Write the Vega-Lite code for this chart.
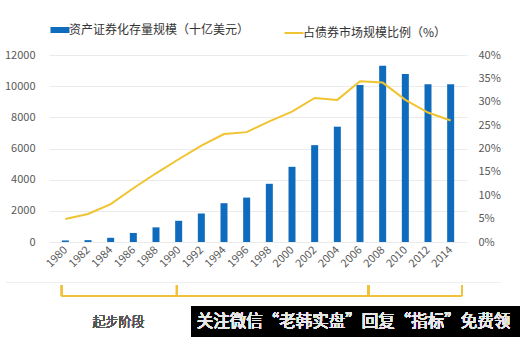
{
  "$schema": "https://vega.github.io/schema/vega-lite/v6.json",
  "autosize": "none",
  "width": 418,
  "height": 187,
  "padding": {"left": 49, "top": 55, "right": 53, "bottom": 95},
  "background": "#ffffff",
  "config": {
    "font": "Noto Sans CJK SC",
    "view": {"stroke": null},
    "axis": {"labelColor": "#595959", "labelFontSize": 11, "domain": false, "ticks": false, "title": null, "labelOverlap": false, "labelFlush": false}
  },
  "data": {
    "values": [
      {"year": 1980, "size": 100, "share": 4.9},
      {"year": 1982, "size": 120, "share": 6.0},
      {"year": 1984, "size": 270, "share": 8.1},
      {"year": 1986, "size": 580, "share": 11.5},
      {"year": 1988, "size": 940, "share": 14.7},
      {"year": 1990, "size": 1360, "share": 17.7},
      {"year": 1992, "size": 1830, "share": 20.6},
      {"year": 1994, "size": 2490, "share": 23.1},
      {"year": 1996, "size": 2850, "share": 23.5},
      {"year": 1998, "size": 3735, "share": 25.8},
      {"year": 2000, "size": 4825, "share": 27.9},
      {"year": 2002, "size": 6215, "share": 30.8},
      {"year": 2004, "size": 7400, "share": 30.4},
      {"year": 2006, "size": 10080, "share": 34.4},
      {"year": 2008, "size": 11310, "share": 34.1},
      {"year": 2010, "size": 10780, "share": 30.4},
      {"year": 2012, "size": 10120, "share": 27.7},
      {"year": 2014, "size": 10120, "share": 26.0}
    ]
  },
  "layer": [
    {
      "layer": [
        {
          "mark": {"type": "bar", "width": 7},
          "encoding": {
            "x": {
              "field": "year", "type": "quantitative",
              "scale": {"domain": [1979, 2015], "nice": false, "zero": false},
              "axis": {
                "values": [1980, 1982, 1984, 1986, 1988, 1990, 1992, 1994, 1996, 1998, 2000, 2002, 2004, 2006, 2008, 2010, 2012, 2014],
                "tickCount": 40,
                "format": "d", "labelAngle": -45, "labelAlign": "right", "labelBaseline": "middle", "grid": false, "labelPadding": 6, "labelFlush": false, "labelOverlap": false
              }
            },
            "y": {
              "field": "size", "type": "quantitative",
              "scale": {"domain": [0, 12000], "nice": false, "zero": false},
              "axis": {"values": [0, 2000, 4000, 6000, 8000, 10000, 12000], "tickCount": 20, "format": "d", "grid": true, "gridColor": "#ebebeb", "labelPadding": 14, "labelOverlap": false, "title": null}
            },
            "color": {
              "datum": "资产证券化存量规模（十亿美元）", "type": "nominal",
              "scale": {"domain": ["资产证券化存量规模（十亿美元）", "占债券市场规模比例（%）"], "range": ["#0f6cbd", "#f0c330"]},
              "legend": {
                "title": null, "orient": "none", "legendX": 5, "legendY": -31, "direction": "horizontal",
                "padding": 0, "columnPadding": 30, "labelFontSize": 12, "labelColor": "#333333", "labelLimit": 400,
                "symbolType": "stroke", "symbolSize": 361, "labelOffset": 3,
                "encode": {
                  "symbols": {
                    "update": {
                      "stroke": {"scale": "color", "field": "value"},
                      "strokeWidth": {"signal": "datum.value === '资产证券化存量规模（十亿美元）' ? 6 : 2"},
                      "fill": {"value": "transparent"}
                    }
                  }
                }
              }
            }
          }
        },
        {
          "mark": {"type": "rule", "color": "#eeeeee", "strokeWidth": 1},
          "encoding": {"x": {"datum": 1974.8}, "x2": {"datum": 2018.4}, "y": {"datum": -2600}}
        },
        {
          "mark": {"type": "rule", "color": "#eec23a", "strokeWidth": 2},
          "encoding": {"x": {"datum": 1979.7}, "x2": {"datum": 2015.0}, "y": {"datum": -3465}}
        },
        {
          "mark": {"type": "rule", "color": "#eec23a", "strokeWidth": 2},
          "encoding": {"x": {"datum": 1979.7}, "y": {"datum": -2760}, "y2": {"datum": -3465}}
        },
        {
          "mark": {"type": "rule", "color": "#eec23a", "strokeWidth": 2},
          "encoding": {"x": {"datum": 1989.85}, "y": {"datum": -2760}, "y2": {"datum": -3465}}
        },
        {
          "mark": {"type": "rule", "color": "#eec23a", "strokeWidth": 2},
          "encoding": {"x": {"datum": 2006.73}, "y": {"datum": -2760}, "y2": {"datum": -3465}}
        },
        {
          "mark": {"type": "rule", "color": "#eec23a", "strokeWidth": 2},
          "encoding": {"x": {"datum": 2015.0}, "y": {"datum": -2760}, "y2": {"datum": -3465}}
        },
        {
          "mark": {"type": "text", "text": "起步阶段", "fontSize": 13, "fontWeight": 300, "color": "#555555", "align": "center", "baseline": "middle"},
          "encoding": {"x": {"datum": 1984.7}, "y": {"datum": -5130}}
        },
        {
          "mark": {"type": "rect", "color": "#000000"},
          "encoding": {"x": {"datum": 1991.14}, "x2": {"datum": 2021}, "y": {"datum": -4107}, "y2": {"datum": -6200}}
        },
        {
          "mark": {"type": "text", "text": "关注微信“老韩实盘”回复“指标”免费领", "fontSize": 16.5, "color": "#e8e8e8", "align": "left", "baseline": "middle"},
          "encoding": {"x": {"datum": 1991.6}, "y": {"datum": -5130}}
        }
      ]
    },
    {
      "mark": {"type": "line", "strokeWidth": 2},
      "encoding": {
        "x": {"field": "year", "type": "quantitative"},
        "y": {
          "field": "share", "type": "quantitative",
          "scale": {"domain": [0, 40], "nice": false, "zero": false},
          "axis": {"orient": "right", "values": [0, 5, 10, 15, 20, 25, 30, 35, 40], "tickCount": 20, "labelExpr": "datum.value + '%'", "grid": false, "labelPadding": 11, "labelOverlap": false, "title": null}
        },
        "color": {"datum": "占债券市场规模比例（%）", "type": "nominal"}
      }
    }
  ],
  "resolve": {"scale": {"y": "independent"}}
}
